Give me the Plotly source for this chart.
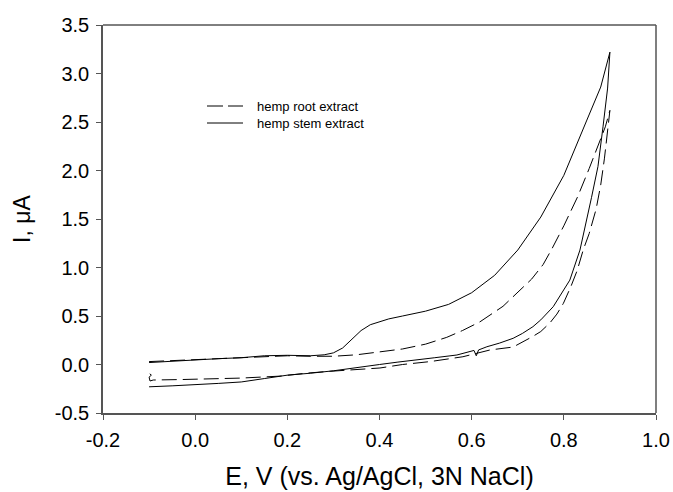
import plotly.graph_objects as go

# hemp stem extract (solid): forward then reverse scan
stem_fwd_E = [-0.10, -0.05, 0.00, 0.05, 0.10, 0.15, 0.20, 0.25, 0.28, 0.30, 0.32, 0.34, 0.36, 0.38, 0.40,
              0.42, 0.45, 0.50, 0.55, 0.60, 0.65, 0.70, 0.75, 0.80, 0.85, 0.88, 0.90]
stem_fwd_I = [0.02, 0.035, 0.05, 0.06, 0.07, 0.09, 0.095, 0.09, 0.10, 0.12, 0.17, 0.26, 0.35, 0.41, 0.44,
              0.47, 0.50, 0.55, 0.62, 0.74, 0.92, 1.18, 1.52, 1.95, 2.52, 2.86, 3.22]
stem_rev_E = [0.895, 0.885, 0.874, 0.86, 0.845, 0.835, 0.813, 0.79, 0.777, 0.75, 0.733, 0.71, 0.69, 0.66,
              0.633, 0.615, 0.61, 0.605, 0.568, 0.52, 0.473, 0.44, 0.40, 0.35, 0.30, 0.25, 0.20, 0.15,
              0.10, 0.05, 0.00, -0.05, -0.10]
stem_rev_I = [2.85, 2.45, 2.04, 1.72, 1.38, 1.18, 0.87, 0.70, 0.596, 0.46, 0.39, 0.32, 0.27, 0.22,
              0.183, 0.15, 0.09, 0.145, 0.098, 0.07, 0.046, 0.025, 0.0, -0.035, -0.065, -0.09, -0.11, -0.145,
              -0.18, -0.195, -0.21, -0.22, -0.23]

# hemp root extract (dashed): forward then reverse scan
root_fwd_E = [-0.10, -0.05, 0.00, 0.05, 0.10, 0.15, 0.20, 0.25, 0.30, 0.35, 0.40, 0.45, 0.50, 0.546, 0.58,
              0.618, 0.668, 0.70, 0.73, 0.755, 0.775, 0.80, 0.83, 0.855, 0.875, 0.89, 0.90]
root_fwd_I = [0.03, 0.04, 0.05, 0.06, 0.07, 0.085, 0.09, 0.085, 0.085, 0.10, 0.13, 0.16, 0.21, 0.28, 0.35,
              0.44, 0.60, 0.74, 0.88, 1.03, 1.20, 1.43, 1.73, 2.02, 2.27, 2.45, 2.62]
root_rev_E = [0.895, 0.888, 0.88, 0.87, 0.855, 0.842, 0.829, 0.815, 0.799, 0.785, 0.77, 0.75, 0.733, 0.71,
              0.69, 0.64, 0.581, 0.51, 0.45, 0.401, 0.35, 0.293, 0.24, 0.184, 0.10, 0.039, -0.03, -0.091,
              -0.098, -0.10, -0.095, -0.10]
root_rev_I = [2.40, 2.12, 1.85, 1.60, 1.35, 1.18, 0.97, 0.80, 0.63, 0.52, 0.43, 0.34, 0.29, 0.23,
              0.18, 0.15, 0.08, 0.03, 0.0, -0.036, -0.05, -0.07, -0.09, -0.12, -0.14, -0.15, -0.155, -0.16,
              -0.17, -0.13, -0.11, -0.09]

x_ticks = [-0.2, 0.0, 0.2, 0.4, 0.6, 0.8, 1.0]
y_ticks = [-0.5, 0.0, 0.5, 1.0, 1.5, 2.0, 2.5, 3.0, 3.5]
series_names = ["hemp root extract", "hemp stem extract"]

FONT = "Arial, Liberation Sans, sans-serif"

fig = go.Figure()
fig.add_trace(go.Scatter(x=root_fwd_E + root_rev_E, y=root_fwd_I + root_rev_I, mode="lines",
                         name=series_names[0],
                         line=dict(color="black", width=1, dash="15px,6px")))
fig.add_trace(go.Scatter(x=stem_fwd_E + stem_rev_E, y=stem_fwd_I + stem_rev_I, mode="lines",
                         name=series_names[1],
                         line=dict(color="black", width=1)))

# plot area in px: x 103..656, y 25..413
L, R, T, B = 103, 656, 25, 413
W, H = R - L, B - T
def px(x):
    return (x - L) / W
def py(y):
    return (B - y) / H

ROW1, ROW2 = 106, 123
shapes = [
    dict(type="line", xref="paper", yref="paper", x0=0, x1=1, y0=1, y1=1, line=dict(color="black", width=1)),
    dict(type="line", xref="paper", yref="paper", x0=1, x1=1, y0=0, y1=1, line=dict(color="#555", width=1.5)),
    dict(type="line", xref="paper", yref="paper", x0=px(207), x1=px(243), y0=py(ROW1), y1=py(ROW1),
         line=dict(color="black", width=1, dash="16px,5px")),
    dict(type="line", xref="paper", yref="paper", x0=px(207), x1=px(243), y0=py(ROW2), y1=py(ROW2),
         line=dict(color="black", width=1)),
]
annotations = [
    dict(xref="paper", yref="paper", x=px(256), y=py(ROW1), text=series_names[0], showarrow=False,
         xanchor="left", yanchor="middle", borderpad=0, font=dict(family=FONT, size=13, color="black")),
    dict(xref="paper", yref="paper", x=px(256), y=py(ROW2), text=series_names[1], showarrow=False,
         xanchor="left", yanchor="middle", borderpad=0, font=dict(family=FONT, size=13, color="black")),
]

fig.update_layout(
    width=673, height=492, autosize=False,
    margin=dict(l=L, r=673 - R, t=T, b=492 - B),
    paper_bgcolor="white", plot_bgcolor="white",
    showlegend=False,
    shapes=shapes, annotations=annotations,
    font=dict(family=FONT, color="black"),
)
fig.update_xaxes(
    automargin=False,
    range=[-0.2, 1.0], tickvals=x_ticks, ticktext=[f"{v:.1f}" for v in x_ticks],
    showgrid=False, zeroline=False, showline=True, linecolor="#555", linewidth=1.5,
    ticks="outside", ticklen=5, tickcolor="#555", tickwidth=1,
    tickfont=dict(size=20, family=FONT), ticklabelstandoff=3,
    title=dict(text="E, V (vs. Ag/AgCl, 3N NaCl)", font=dict(size=25, family=FONT), standoff=18),
)
fig.update_yaxes(
    automargin=False,
    range=[-0.5, 3.5], tickvals=y_ticks, ticktext=[f"{v:.1f}" for v in y_ticks],
    showgrid=False, zeroline=False, showline=True, linecolor="#555", linewidth=1.5,
    ticks="outside", ticklen=5, tickcolor="#555", tickwidth=1,
    tickfont=dict(size=20, family=FONT), ticklabelstandoff=3,
    title=dict(text="I, μA", font=dict(size=23, family=FONT), standoff=18),
)

fig.write_html("out.html", config={"displayModeBar": False, "responsive": False},
               post_script="document.body.style.margin='0';")
